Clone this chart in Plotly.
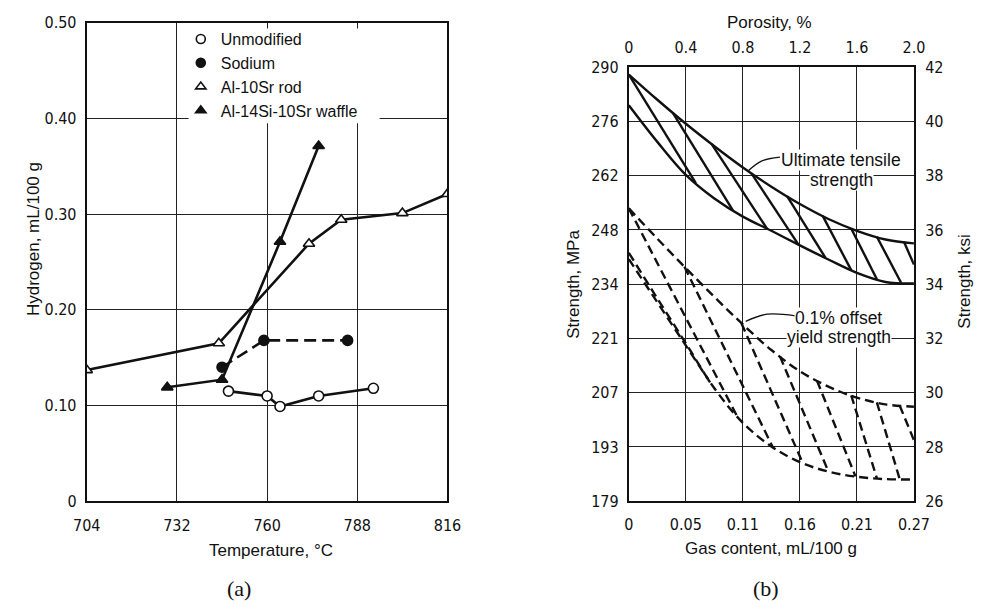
import plotly.graph_objects as go

W, H = 992, 613
FONT = "Liberation Sans, Arial, sans-serif"
NARROW = "Liberation Sans Narrow, DejaVu Sans Condensed, sans-serif"
SERIF = "Liberation Serif, Times New Roman, serif"
INK = "#111111"

# ---------------- Panel (a) data ----------------
temp_ticks = [704, 732, 760, 788, 816]
h_ticks = [0, 0.10, 0.20, 0.30, 0.40, 0.50]
h_tick_labels = ["0", "0.10", "0.20", "0.30", "0.40", "0.50"]

unmod_t = [748, 760, 764, 776, 793]
unmod_h = [0.115, 0.110, 0.099, 0.110, 0.118]
sodium_t = [746, 759, 785]
sodium_h = [0.140, 0.168, 0.168]
rod_t = [704, 745, 773, 783, 802, 816]
rod_h = [0.137, 0.165, 0.269, 0.294, 0.301, 0.321]
waffle_t = [729, 746, 764, 776]
waffle_h = [0.119, 0.127, 0.271, 0.371]

# ---------------- Panel (b) data ----------------
porosity_ticks = [0, 0.4, 0.8, 1.2, 1.6, 2.0]
porosity_labels = ["0", "0.4", "0.8", "1.2", "1.6", "2.0"]
gas_labels = ["0", "0.05", "0.11", "0.16", "0.21", "0.27"]
ksi_ticks = [26, 28, 30, 32, 34, 36, 38, 40, 42]
mpa_labels = ["179", "193", "207", "221", "234", "248", "262", "276", "290"]
MPA_PER_KSI = 6.895

# Ultimate tensile strength band (porosity %, MPa)
uts_upper_p = [0, 0.2, 0.4, 0.6, 0.8, 1.0, 1.2, 1.4, 1.6, 1.8, 2.0]
uts_upper_s = [287.7, 281.3, 275.2, 269.5, 264.1, 259.2, 254.8, 251.0, 248.0, 245.8, 244.8]
uts_lower_p = [0, 0.2, 0.4, 0.6, 0.8, 1.0, 1.2, 1.4, 1.6, 1.8, 2.0]
uts_lower_s = [279.9, 270.6, 262.2, 256.2, 251.6, 248.0, 244.3, 240.7, 237.3, 235.0, 234.6]
uts_hatch_p0 = [0, 0.31, 0.58, 0.86, 1.11, 1.36, 1.56, 1.74, 1.93]
uts_hatch_s0 = [287.7, 277.9, 270.1, 262.6, 256.8, 251.8, 248.6, 246.5, 245.2]
uts_hatch_p1 = [0.47, 0.73, 0.97, 1.19, 1.38, 1.56, 1.74, 1.91, 2.0]
uts_hatch_s1 = [260.1, 253.2, 248.5, 244.5, 241.1, 238.0, 235.7, 234.8, 239.4]

# 0.1% offset yield strength band (porosity %, MPa)
ys_upper_p = [0, 0.2, 0.4, 0.6, 0.8, 1.0, 1.2, 1.4, 1.6, 1.8, 2.0]
ys_upper_s = [253.7, 246.0, 238.5, 231.2, 224.2, 217.7, 212.3, 208.4, 205.6, 203.9, 203.3]
ys_lower_p = [0, 0.2, 0.4, 0.6, 0.8, 1.0, 1.2, 1.4, 1.6, 1.8, 2.0]
ys_lower_s = [242.4, 230.8, 219.4, 208.0, 199.2, 193.2, 189.2, 186.8, 185.5, 184.9, 184.8]
ys_hatch_p0 = [0, 0, 0.39, 0.79, 1.06, 1.32, 1.56, 1.74, 1.90]
ys_hatch_s0 = [253.7, 240.8, 238.9, 224.5, 216.1, 209.9, 206.2, 204.4, 203.6]
ys_hatch_p1 = [0.755, 0.57, 1.01, 1.22, 1.40, 1.59, 1.74, 1.90, 2.0]
ys_hatch_s1 = [201.2, 209.5, 193.0, 189.0, 186.8, 185.6, 185.1, 184.9, 194.8]

# label leader curves (porosity %, MPa)
uts_leader_p = [0.84, 0.93, 1.06]
uts_leader_s = [263.3, 265.7, 266.7]
ys_leader_p = [0.82, 0.97, 1.17]
ys_leader_s = [225.0, 226.8, 226.4]


def segs(x0, y0, x1, y1):
    xs, ys = [], []
    for a, b, c, d in zip(x0, y0, x1, y1):
        xs += [a, c, None]
        ys += [b, d, None]
    return xs, ys


def px(x):
    return x / W


def py(y):
    return 1 - y / H


fig = go.Figure()

# ---- panel (a) ----
LW = 2.6
series = [
    ("Unmodified", unmod_t, unmod_h, "circle", "white", "solid"),
    ("Sodium", sodium_t, sodium_h, "circle", INK, "12px,6px"),
    ("Al-10Sr rod", rod_t, rod_h, "triangle-up", "white", "solid"),
    ("Al-14Si-10Sr waffle", waffle_t, waffle_h, "triangle-up", INK, "solid"),
]
for name, xs, ys, sym, fillc, dash in series:
    fig.add_trace(go.Scatter(
        x=xs, y=ys, mode="lines+markers", xaxis="x", yaxis="y",
        line=dict(color=INK, width=LW, dash=dash),
        marker=dict(symbol=sym, size=10, color=fillc, line=dict(color=INK, width=1.6)),
        showlegend=False, hoverinfo="skip"))
for name, xs, ys, sym, fillc, dash in series:
    fig.add_trace(go.Scatter(
        x=[None], y=[None], mode="markers", name=name, xaxis="x", yaxis="y",
        marker=dict(symbol=sym, size=9, color=fillc, line=dict(color=INK, width=1.6)),
        showlegend=True))

# ---- panel (b) ----
BW = 2.4
for p_, s_ in [(uts_upper_p, uts_upper_s), (uts_lower_p, uts_lower_s)]:
    fig.add_trace(go.Scatter(x=p_, y=s_, mode="lines", xaxis="x2", yaxis="y2",
                             line=dict(color=INK, width=BW, shape="spline", smoothing=1.0),
                             showlegend=False, hoverinfo="skip"))
hx, hy = segs(uts_hatch_p0, uts_hatch_s0, uts_hatch_p1, uts_hatch_s1)
fig.add_trace(go.Scatter(x=hx, y=hy, mode="lines", xaxis="x2", yaxis="y2",
                         line=dict(color=INK, width=BW), showlegend=False, hoverinfo="skip"))

DASH = "9px,5px"
for p_, s_ in [(ys_upper_p, ys_upper_s), (ys_lower_p, ys_lower_s)]:
    fig.add_trace(go.Scatter(x=p_, y=s_, mode="lines", xaxis="x2", yaxis="y2",
                             line=dict(color=INK, width=BW, dash=DASH, shape="spline", smoothing=1.0),
                             showlegend=False, hoverinfo="skip"))
hx, hy = segs(ys_hatch_p0, ys_hatch_s0, ys_hatch_p1, ys_hatch_s1)
fig.add_trace(go.Scatter(x=hx, y=hy, mode="lines", xaxis="x2", yaxis="y2",
                         line=dict(color=INK, width=BW, dash=DASH), showlegend=False, hoverinfo="skip"))

for lp, ls in [(uts_leader_p, uts_leader_s), (ys_leader_p, ys_leader_s)]:
    fig.add_trace(go.Scatter(x=lp, y=ls, mode="lines", xaxis="x2", yaxis="y2",
                             line=dict(color=INK, width=1.3, shape="spline"),
                             showlegend=False, hoverinfo="skip"))

# invisible anchors so secondary axes are drawn
fig.add_trace(go.Scatter(x=[None], y=[None], xaxis="x3", yaxis="y2", showlegend=False, hoverinfo="skip"))
fig.add_trace(go.Scatter(x=[None], y=[None], xaxis="x2", yaxis="y3", showlegend=False, hoverinfo="skip"))

grid = dict(showgrid=True, gridcolor="#222222", gridwidth=1.3, zeroline=False,
            showline=True, linecolor=INK, linewidth=2, mirror=True)
tick_hidden = dict(ticks="outside", tickcolor="rgba(0,0,0,0)")

fig.update_layout(
    width=W, height=H, margin=dict(l=0, r=0, t=0, b=0),
    paper_bgcolor="white", plot_bgcolor="white",
    showlegend=True,
    legend=dict(x=px(172), y=py(13.5), xanchor="left", yanchor="top",
                bgcolor="rgba(0,0,0,0)", borderwidth=0, tracegroupgap=0,
                font=dict(family=FONT, size=16, color=INK)),
    xaxis=dict(domain=[px(75), px(447)], range=[704, 816], anchor="y",
               tickvals=temp_ticks, ticklen=9, tickfont=dict(family=NARROW, size=16, color=INK),
               **grid, **tick_hidden),
    yaxis=dict(domain=[py(508), py(14)], range=[0, 0.5], anchor="x",
               tickvals=h_ticks, ticktext=h_tick_labels, ticklen=5,
               tickfont=dict(family=NARROW, size=16, color=INK), **grid, **tick_hidden),
    xaxis2=dict(domain=[px(634), px(928)], range=[0, 2.0], anchor="y2",
                tickvals=porosity_ticks, ticktext=gas_labels, ticklen=8,
                tickfont=dict(family=NARROW, size=16, color=INK), **grid, **tick_hidden),
    yaxis2=dict(domain=[py(508), py(60)], range=[26 * MPA_PER_KSI, 42 * MPA_PER_KSI], anchor="x2",
                tickvals=[k * MPA_PER_KSI for k in ksi_ticks], ticktext=mpa_labels, ticklen=5,
                tickfont=dict(family=NARROW, size=16, color=INK), **grid, **tick_hidden),
    xaxis3=dict(overlaying="x2", side="top", range=[0, 2.0], anchor="y2",
                tickvals=porosity_ticks, ticktext=porosity_labels, ticklen=7,
                showgrid=False, zeroline=False, showline=False,
                tickfont=dict(family=NARROW, size=16, color=INK), **tick_hidden),
    yaxis3=dict(overlaying="y2", side="right", range=[26, 42], anchor="x2",
                tickvals=ksi_ticks, ticklen=7, showgrid=False, zeroline=False, showline=False,
                tickfont=dict(family=NARROW, size=16, color=INK), **tick_hidden),
)

# white panel behind the legend hiding the grid lines (as in the original)
fig.add_shape(type="rect", xref="paper", yref="paper",
              x0=px(180), x1=px(377), y0=py(118), y1=py(20),
              fillcolor="white", line=dict(width=0), layer="above")

ann = []


def text(s, x, y, size=17, rot=0, family=FONT, bg=None):
    d = dict(text=s, x=px(x), y=py(y), xref="paper", yref="paper", showarrow=False,
             xanchor="center", yanchor="middle", textangle=rot,
             font=dict(family=family, size=size, color=INK))
    if bg:
        d.update(bgcolor=bg, borderpad=0)
    ann.append(d)


text("Hydrogen, mL/100 g", 20, 237, rot=-90)
text("Temperature, °C", 265, 559)
text("(a)", 232, 598, size=22, family=SERIF)
text("Porosity, %", 779, 14)
text("Strength, MPa", 577, 284, rot=-90)
text("Strength, ksi", 980, 281, rot=-90)
text("Gas content, mL/100 g", 781, 557)
text("(b)", 775, 598, size=22, family=SERIF)
text("Ultimate tensile", 853, 156, size=17.5, bg="white")
text("strength", 853, 176, size=17.5, bg="white")
text("0.1% offset", 850, 319, size=17.5, bg="white")
text("yield strength", 851, 339, size=17.5, bg="white")
fig.update_layout(annotations=ann)

fig.write_html("out.html")
